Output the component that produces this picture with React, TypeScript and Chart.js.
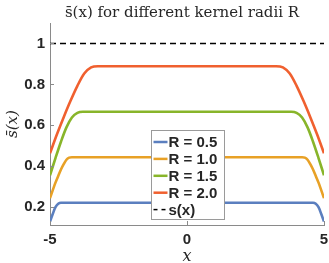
import { useEffect, useRef } from 'react';
import { Chart, registerables } from 'chart.js';

Chart.register(...registerables);

const TITLE = 's\u0304(x) for different kernel radii R';
const Y_LABEL = 's\u0304(x)';
const X_LABEL = 'x';

const SERIES_LABELS = ['R = 0.5', 'R = 1.0', 'R = 1.5', 'R = 2.0'];
const REF_LABEL = 's(x)';
const COLORS = ['#5b7fbf', '#e8a126', '#88b52a', '#f0602f'];

const X_R05 = [-5, -4.9, -4.8, -4.7, -4.6, -4.5, 4.5, 4.6, 4.7, 4.8, 4.9, 5];
const Y_R05 = [0.13, 0.167, 0.2, 0.217, 0.222, 0.222, 0.222, 0.222, 0.217, 0.2, 0.167, 0.13];

const X_R10 = [-5, -4.8, -4.7, -4.6, -4.5, -4.4, -4.3, -4.2, 4.2, 4.3, 4.4, 4.5, 4.6, 4.7, 4.8, 5];
const Y_R10 = [0.244, 0.32, 0.352, 0.384, 0.41, 0.432, 0.442, 0.444, 0.444, 0.442, 0.432, 0.41, 0.384, 0.352, 0.32, 0.244];

const X_R15 = [-5, -4.8, -4.6, -4.4, -4.2, -4.0, -3.8, 3.8, 4.0, 4.2, 4.4, 4.6, 4.8, 5];
const Y_R15 = [0.356, 0.44, 0.52, 0.59, 0.638, 0.661, 0.666, 0.666, 0.661, 0.638, 0.59, 0.52, 0.44, 0.356];

const X_R20 = [-5, -4.75, -4.5, -4.25, -4, -3.75, -3.5, -3.25, 3.25, 3.5, 3.75, 4, 4.25, 4.5, 4.75, 5];
const Y_R20 = [0.463, 0.555, 0.64, 0.72, 0.793, 0.853, 0.883, 0.889, 0.889, 0.883, 0.853, 0.793, 0.72, 0.64, 0.555, 0.463];

const X_S = [-5, 5];
const Y_S = [1, 1];

const X_TICKS = [-5, 0, 5];
const Y_TICKS = [0.2, 0.4, 0.6, 0.8, 1];
const X_MIN = -5;
const X_MAX = 5;
const Y_MIN = 0.113;
const Y_MAX = 1.1;

const pts = (xs: number[], ys: number[]) => xs.map((x, i) => ({ x, y: ys[i] }));

const AXIS_COLOR = '#8a8a8a';
const TEXT_COLOR = '#262626';
const TICK_FONT = { family: 'Liberation Sans, Arial, sans-serif', size: 15, weight: 'bold' as const };

const decorPlugin = {
  id: 'decor',
  afterDraw(chart: any) {
    const ctx = chart.ctx as CanvasRenderingContext2D;
    const area = chart.chartArea;
    const xs = chart.scales.x;
    const ys = chart.scales.y;
    ctx.save();
    // inward ticks
    ctx.strokeStyle = AXIS_COLOR;
    ctx.lineWidth = 1;
    ctx.beginPath();
    for (const v of Y_TICKS) {
      const y = Math.round(ys.getPixelForValue(v)) + 0.5;
      ctx.moveTo(area.left, y);
      ctx.lineTo(area.left + 4, y);
    }
    for (const v of X_TICKS) {
      const x = Math.round(xs.getPixelForValue(v)) + 0.5;
      ctx.moveTo(x, area.bottom);
      ctx.lineTo(x, area.bottom - 4);
    }
    ctx.stroke();

    // title
    ctx.fillStyle = TEXT_COLOR;
    ctx.font = '15px "DejaVu Serif", serif';
    ctx.textAlign = 'center';
    ctx.textBaseline = 'alphabetic';
    ctx.fillText(TITLE, (area.left + area.right) / 2 - 5, 17);

    // x label
    ctx.font = 'italic 16px "DejaVu Serif", serif';
    ctx.fillText(X_LABEL, (area.left + area.right) / 2, 261);

    // y label
    ctx.save();
    ctx.translate(17, (area.top + area.bottom) / 2);
    ctx.rotate(-Math.PI / 2);
    ctx.font = 'italic 15px "DejaVu Serif", serif';
    ctx.textAlign = 'center';
    ctx.fillText(Y_LABEL, 0, 0);
    ctx.restore();

    // legend
    const w = 73;
    const h = 89;
    const lx = Math.round((area.left + area.right) / 2 - w / 2) + 0.5;
    const ly = Math.round(area.bottom - 6 - h) + 0.5;
    ctx.fillStyle = '#ffffff';
    ctx.fillRect(lx, ly, w, h);
    ctx.strokeStyle = '#9a9a9a';
    ctx.lineWidth = 1;
    ctx.strokeRect(lx, ly, w, h);
    const labels = [...SERIES_LABELS, REF_LABEL];
    ctx.font = 'bold 15px "Liberation Sans", Arial, sans-serif';
    ctx.textAlign = 'left';
    ctx.textBaseline = 'middle';
    labels.forEach((lab, i) => {
      const cy = ly + 11.5 + i * 16.9;
      ctx.beginPath();
      if (i < 4) {
        ctx.strokeStyle = COLORS[i];
        ctx.lineWidth = 2.5;
        ctx.setLineDash([]);
      } else {
        ctx.strokeStyle = '#000000';
        ctx.lineWidth = 1.5;
        ctx.setLineDash([4, 4]);
      }
      ctx.moveTo(lx + 2, cy);
      ctx.lineTo(lx + 16, cy);
      ctx.stroke();
      ctx.setLineDash([]);
      ctx.fillStyle = TEXT_COLOR;
      ctx.fillText(lab, lx + 17, cy + 1);
    });
    ctx.restore();
  },
};

export default function App() {
  const ref = useRef<HTMLCanvasElement>(null);
  useEffect(() => {
    if (!ref.current) return;
    const lineDs = (label: string, data: any[], color: string) => ({
      label,
      data,
      borderColor: color,
      backgroundColor: color,
      borderWidth: 2.6,
      pointRadius: 0,
      fill: false,
      cubicInterpolationMode: 'monotone' as const,
    });
    const chart = new Chart(ref.current, {
      type: 'line',
      data: {
        datasets: [
          lineDs(SERIES_LABELS[0], pts(X_R05, Y_R05), COLORS[0]),
          lineDs(SERIES_LABELS[1], pts(X_R10, Y_R10), COLORS[1]),
          lineDs(SERIES_LABELS[2], pts(X_R15, Y_R15), COLORS[2]),
          lineDs(SERIES_LABELS[3], pts(X_R20, Y_R20), COLORS[3]),
          {
            label: REF_LABEL,
            data: pts(X_S, Y_S),
            borderColor: '#000000',
            borderWidth: 1.5,
            borderDash: [6, 4],
            pointRadius: 0,
            fill: false,
          },
        ],
      },
      options: {
        responsive: false,
        animation: false,
        devicePixelRatio: 1,
        layout: { padding: { left: 0, right: 5, top: 23, bottom: 0 } },
        plugins: {
          legend: { display: false },
          title: { display: false },
          tooltip: { enabled: false },
        },
        scales: {
          x: {
            type: 'linear',
            min: X_MIN,
            max: X_MAX,
            afterBuildTicks: (s: any) => {
              s.ticks = X_TICKS.map((v) => ({ value: v }));
            },
            afterFit: (s: any) => {
              s.height = 38;
              s.paddingLeft = 0;
              s.paddingRight = 0;
            },
            grid: { display: false, drawTicks: false },
            border: { display: true, color: AXIS_COLOR, width: 1 },
            ticks: {
              font: TICK_FONT,
              color: TEXT_COLOR,
              padding: 6,
              maxRotation: 0,
              autoSkip: false,
              callback: (v: any) => String(v),
            },
          },
          y: {
            type: 'linear',
            min: Y_MIN,
            max: Y_MAX,
            afterBuildTicks: (s: any) => {
              s.ticks = Y_TICKS.map((v) => ({ value: v }));
            },
            afterFit: (s: any) => {
              s.width = 50;
              s.paddingTop = 0;
              s.paddingBottom = 0;
            },
            grid: { display: false, drawTicks: false },
            border: { display: true, color: AXIS_COLOR, width: 1 },
            ticks: {
              font: TICK_FONT,
              color: TEXT_COLOR,
              padding: 5,
              autoSkip: false,
              callback: (v: any) => String(v),
            },
          },
        },
      },
      plugins: [decorPlugin],
    });
    return () => chart.destroy();
  }, []);
  return (
    <div style={{ position: 'fixed', left: 0, top: 0, width: 329, height: 263, background: '#ffffff' }}>
      <canvas ref={ref} width={329} height={263} style={{ width: 329, height: 263, display: 'block' }} />
    </div>
  );
}
